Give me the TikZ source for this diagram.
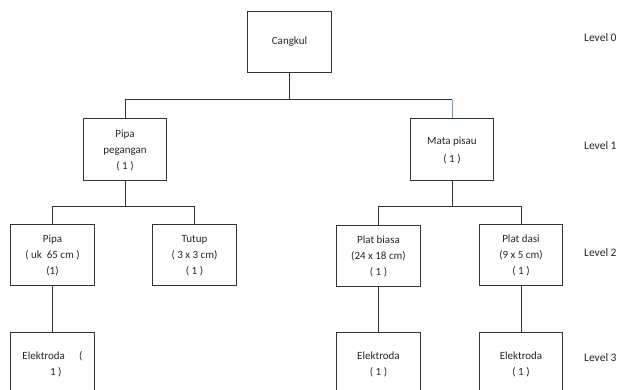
\documentclass[tikz,border=0pt]{standalone}
\usepackage{fontspec}
\setmainfont{Carlito}
\definecolor{lineblue}{RGB}{110,150,210}
\begin{document}
\begin{tikzpicture}[x=1pt,y=-1pt,
  box/.style={draw=black!80, line width=1pt, minimum width=83.5pt, minimum height=61pt,
    inner sep=0pt, align=center, font=\fontsize{11}{16}\selectfont, text=black!85},
  conn/.style={draw=black!80, line width=1pt},
  lvl/.style={anchor=west, inner sep=0pt, font=\fontsize{11.5}{13}\selectfont, text=black!85}]
\useasboundingbox (0,0) rectangle (619,390);
\clip (0,0) rectangle (619,390);
% level 0
\node[box] (cangkul) at (289.5,42) {Cangkul};
% level 1
\node[box, minimum height=62pt] (pp) at (125,150) {Pipa\\pegangan\\( 1 )};
\node[box, minimum height=62pt, font=\fontsize{11}{18}\selectfont] (mp) at (452,150) {Mata pisau\\( 1 )};
% level 2
\node[box] (pipa) at (52.5,255.5) {Pipa\\( uk\ \ 65 cm )\\(1)};
\node[box] (tutup) at (194.5,255.5) {Tutup\\( 3 x 3 cm)\\( 1 )};
\node[box] (pb) at (378.5,256) {Plat biasa\\(24 x 18 cm)\\( 1 )};
\node[box] (pd) at (521,255.5) {Plat dasi\\(9 x 5 cm)\\( 1 )};
% level 3
\node[box, minimum height=62pt] (e1) at (52.5,364) {Elektroda\hspace{1.3em}(\\\hspace{0.6em}1 )};
\node[box, minimum height=62pt] (e2) at (378.5,364) {Elektroda\\( 1 )};
\node[box, minimum height=62pt] (e3) at (521,364) {Elektroda\\( 1 )};
% connectors
\coordinate (b0) at (289.5,100);
\coordinate (b1) at (125,207);
\coordinate (b2) at (452,207);
\draw[conn] (cangkul.south) -- (b0);
\draw[conn] (b0) -| (pp.north);
\draw[conn] (b0) -- (b0 -| mp.north);
\draw[line width=1pt, draw=lineblue] (b0 -| mp.north) -- (mp.north);
\draw[conn] (pp.south) -- (b1);
\draw[conn] (b1) -| (pipa.north);
\draw[conn] (b1) -| (tutup.north);
\draw[conn] (mp.south) -- (b2);
\draw[conn] (b2) -| (pb.north);
\draw[conn] (b2) -| (pd.north);
\draw[conn] (pipa.south) -- (e1.north);
\draw[conn] (pb.south) -- (e2.north);
\draw[conn] (pd.south) -- (e3.north);
% level labels
\node[lvl] (l0) at (584,38) {Level 0};
\node[lvl] (l1) at (584,146) {Level 1};
\node[lvl] (l2) at (584,253) {Level 2};
\node[lvl] (l3) at (584,358) {Level 3};
\end{tikzpicture}
\end{document}
